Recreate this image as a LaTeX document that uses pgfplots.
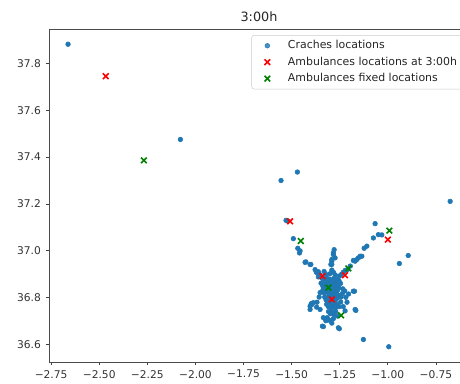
\documentclass[border=0pt]{standalone}
\usepackage{pgfplots}
\pgfplotsset{compat=1.18}
\usepackage{fontspec}
\setmainfont{DejaVu Sans}
\definecolor{tabblue}{HTML}{1F77B4}
\definecolor{mred}{HTML}{FF0000}
\definecolor{mgreen}{HTML}{008000}
\begin{document}
\begin{tikzpicture}
\useasboundingbox (0,0) rectangle (345pt,-287.25pt);
\clip (0,0) rectangle (345pt,-287.25pt);
\begin{axis}[
  at={(36.75pt,-271.5pt)}, anchor=south west,
  scale only axis, width=315pt, height=249.75pt,
  xmin=-2.761, xmax=-0.578, ymin=36.526, ymax=37.946,
  xtick={-2.75,-2.5,-2.25,-2,-1.75,-1.5,-1.25,-1,-0.75},
  xticklabels={−2.75,−2.50,−2.25,−2.00,−1.75,−1.50,−1.25,−1.00,−0.75},
  ytick={36.6,36.8,37.0,37.2,37.4,37.6,37.8},
  yticklabels={36.6,36.8,37.0,37.2,37.4,37.6,37.8},
  tick align=outside, xtick pos=bottom, ytick pos=left,
  major tick length=2.6pt,
  tick style={black!75, line width=0.6pt},
  axis line style={black!70, line width=0.6pt},
  ticklabel style={font=\fontsize{8}{9.6}\selectfont, text=black!80},
  title={3:00h},
  every axis title shift=0pt,
  title style={at={(0.5,1)}, anchor=base, yshift=5.5pt, font=\fontsize{9.6}{11}\selectfont, text=black!85},
  legend style={at={(1,1)}, anchor=north east, xshift=-3.75pt, yshift=-4.5pt,
    draw=black!20, rounded corners=2pt, fill=white, fill opacity=0.8, text opacity=1,
    font=\fontsize{8.2}{9.8}\selectfont, text=black!85, row sep=0.6pt, inner ysep=2pt},
  legend cell align=left,
  legend image code/.code={\draw[#1] plot coordinates {(0pt,0pt)}; \path (-8.5pt,0pt) (13.3pt,0pt);},
]
\addplot[only marks, mark=*, mark size=1.75pt, mark options={fill=tabblue, draw=tabblue}] coordinates {
(-2.662,37.881)(-2.078,37.475)(-1.555,37.300)(-1.470,37.336)(-0.676,37.211)
(-1.529,37.130)(-1.520,37.128)(-1.491,37.052)(-1.468,37.011)(-1.459,36.991)
(-1.456,37.000)(-1.430,36.951)(-1.426,36.953)(-1.404,36.942)(-1.400,36.942)(-1.378,36.920)(-1.361,36.911)
(-1.066,37.116)(-1.075,37.055)(-1.049,37.069)(-1.031,37.068)(-0.894,36.980)(-0.940,36.946)
(-1.109,37.020)(-1.123,37.011)(-1.135,36.977)(-1.144,36.977)(-1.153,36.970)(-1.161,36.963)(-1.170,36.956)(-1.179,36.959)
(-1.195,36.935)(-1.210,36.920)
(-1.279,37.005)(-1.283,36.991)(-1.283,36.984)(-1.274,36.970)(-1.291,36.963)(-1.291,36.956)(-1.291,36.942)(-1.296,36.942)
(-1.404,36.764)(-1.404,36.750)(-1.398,36.775)(-1.395,36.771)(-1.387,36.779)(-1.370,36.760)(-1.352,36.750)
(-1.335,36.715)(-1.340,36.679)(-1.335,36.677)(-1.252,36.668)(-1.257,36.672)(-1.166,36.746)(-1.170,36.750)
(-1.173,36.828)(-1.179,36.828)(-1.127,36.622)(-0.995,36.591)
(-1.342,36.883)(-1.328,36.872)(-1.318,36.884)(-1.307,36.868)(-1.301,36.879)(-1.288,36.874)(-1.279,36.883)(-1.268,36.871)(-1.259,36.879)(-1.251,36.893)(-1.242,36.899)(-1.232,36.908)(-1.222,36.916)
(-1.347,36.862)(-1.338,36.851)(-1.326,36.854)(-1.318,36.861)(-1.309,36.849)(-1.298,36.858)(-1.291,36.851)(-1.281,36.862)(-1.272,36.852)(-1.263,36.859)(-1.253,36.871)(-1.246,36.861)
(-1.338,36.832)(-1.331,36.821)(-1.322,36.829)(-1.312,36.823)(-1.302,36.834)(-1.292,36.822)(-1.283,36.828)(-1.272,36.819)(-1.262,36.831)(-1.254,36.842)(-1.234,36.838)(-1.224,36.829)
(-1.328,36.803)(-1.321,36.791)(-1.311,36.801)(-1.299,36.798)(-1.289,36.789)(-1.281,36.802)(-1.272,36.792)(-1.262,36.799)(-1.253,36.809)(-1.243,36.803)
(-1.318,36.772)(-1.309,36.762)(-1.302,36.771)(-1.292,36.759)(-1.283,36.768)(-1.271,36.758)(-1.264,36.772)(-1.254,36.762)
(-1.308,36.741)(-1.299,36.732)(-1.292,36.744)(-1.281,36.729)(-1.271,36.741)(-1.262,36.722)
(-1.352,36.898)(-1.361,36.889)(-1.371,36.908)(-1.331,36.912)(-1.322,36.899)(-1.302,36.902)(-1.282,36.908)(-1.273,36.897)(-1.291,36.918)
(-1.335,36.845)(-1.315,36.835)(-1.295,36.845)(-1.275,36.845)(-1.305,36.815)(-1.285,36.815)(-1.265,36.815)(-1.315,36.785)(-1.295,36.785)(-1.275,36.785)
(-1.357,36.803)(-1.368,36.781)(-1.352,36.822)(-1.245,36.782)(-1.236,36.818)(-1.218,36.802)(-1.204,36.816)(-1.212,36.781)
(-1.301,36.703)(-1.291,36.692)(-1.283,36.711)(-1.315,36.715)(-1.322,36.702)
(-1.232,36.762)(-1.222,36.744)(-1.305,36.825)(-1.285,36.838)(-1.296,36.808)(-1.277,36.808)
};
\addlegendentry{Craches locations}
\addplot[only marks, mark=x, mark size=3pt, mark options={draw=mred, line width=1.2pt}] coordinates {
(-2.466,37.745)(-1.508,37.126)(-1.000,37.048)(-1.340,36.892)(-1.222,36.896)(-1.291,36.793)
};
\addlegendentry{Ambulances locations at 3:00h}
\addplot[only marks, mark=x, mark size=3pt, mark options={draw=mgreen, line width=1.2pt}] coordinates {
(-2.268,37.386)(-1.452,37.042)(-0.992,37.086)(-1.309,36.843)(-1.205,36.925)(-1.243,36.725)
};
\addlegendentry{Ambulances fixed locations}
\end{axis}
\end{tikzpicture}
\end{document}
